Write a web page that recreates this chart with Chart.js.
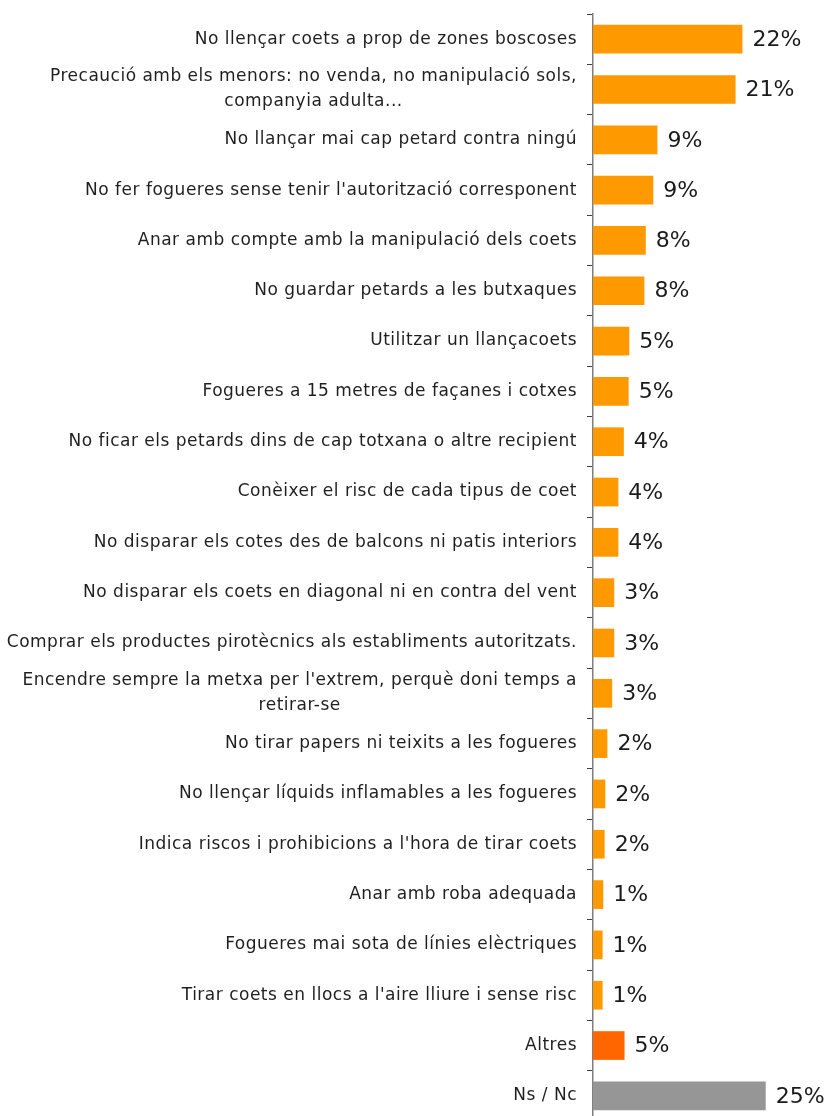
<!DOCTYPE html>
<html>
<head>
<meta charset="utf-8">
<script src="https://cdn.jsdelivr.net/npm/chart.js@4"></script>
<style>
  html, body { margin: 0; padding: 0; background: #fff; overflow: hidden; }
  #wrap { width: 824px; height: 1121px; }
</style>
</head>
<body>
<div id="wrap"><canvas id="chart" width="824" height="1121"></canvas></div>
<script>
  // ── Categories (multi-line ones as arrays) ──
  const categories = [
    'No llençar coets a prop de zones boscoses',
    ['Precaució amb els menors: no venda, no manipulació sols,', 'companyia adulta...'],
    'No llançar mai cap petard contra ningú',
    "No fer fogueres sense tenir l'autorització corresponent",
    'Anar amb compte amb la manipulació dels coets',
    'No guardar petards a les butxaques',
    'Utilitzar un llançacoets',
    'Fogueres a 15 metres de façanes i cotxes',
    'No ficar els petards dins de cap totxana o altre recipient',
    'Conèixer el risc de cada tipus de coet',
    'No disparar els cotes des de balcons ni patis interiors',
    'No disparar els coets en diagonal ni en contra del vent',
    'Comprar els productes pirotècnics als establiments autoritzats.',
    ["Encendre sempre la metxa per l'extrem, perquè doni temps a", 'retirar-se'],
    'No tirar papers ni teixits a les fogueres',
    'No llençar líquids inflamables a les fogueres',
    "Indica riscos i prohibicions a l'hora de tirar coets",
    'Anar amb roba adequada',
    'Fogueres mai sota de línies elèctriques',
    "Tirar coets en llocs a l'aire lliure i sense risc",
    'Altres',
    'Ns / Nc',
  ];
  // bar lengths (%)
  const values = [21.8, 20.8, 9.4, 8.8, 7.7, 7.5, 5.3, 5.2, 4.5, 3.7, 3.7, 3.1, 3.1, 2.8,
                  2.1, 1.8, 1.7, 1.5, 1.4, 1.4, 4.6, 25.2];
  // printed labels
  const valueLabels = ['22%', '21%', '9%', '9%', '8%', '8%', '5%', '5%', '4%', '4%', '4%', '3%', '3%', '3%',
                       '2%', '2%', '2%', '1%', '1%', '1%', '5%', '25%'];

  const ORANGE = '#ff9900', RED_ORANGE = '#ff6600', GREY = '#969696';
  const barColors = categories.map(c => c === 'Altres' ? RED_ORANGE : (c === 'Ns / Nc' ? GREY : ORANGE));

  const LABEL_FONT = "17px 'DejaVu Sans', sans-serif";
  const VALUE_FONT = "22px 'DejaVu Sans', sans-serif";

  // ── Category labels: right-aligned block, lines centered inside it ──
  const catLabels = {
    id: 'catLabels',
    afterDraw(chart) {
      const { ctx } = chart;
      const y = chart.scales.y;
      const right = 577;
      ctx.save();
      ctx.font = LABEL_FONT;
      ctx.letterSpacing = '0.5px';
      ctx.fillStyle = '#1f1f1f';
      ctx.textAlign = 'center';
      ctx.textBaseline = 'middle';
      categories.forEach((lab, i) => {
        const lines = Array.isArray(lab) ? lab : [lab];
        const w = Math.max(...lines.map(l => ctx.measureText(l).width));
        const cy = y.getPixelForTick(i);
        const lh = 25;
        lines.forEach((l, k) => {
          ctx.fillText(l, right - w / 2, cy + (k - (lines.length - 1) / 2) * lh);
        });
      });
      ctx.restore();
    },
  };

  // ── Value labels next to bar ends ──
  const valueTags = {
    id: 'valueTags',
    afterDatasetsDraw(chart) {
      const { ctx } = chart;
      const meta = chart.getDatasetMeta(0);
      ctx.save();
      ctx.font = VALUE_FONT;
      ctx.fillStyle = '#1a1a1a';
      ctx.textAlign = 'left';
      ctx.textBaseline = 'middle';
      meta.data.forEach((bar, i) => {
        ctx.fillText(valueLabels[i], bar.x + 10, bar.y + 1);
      });
      ctx.restore();
    },
  };

  new Chart(document.getElementById('chart'), {
    type: 'bar',
    data: {
      labels: categories,
      datasets: [{
        data: values,
        backgroundColor: barColors,
        borderWidth: 0,
        categoryPercentage: 1,
        barPercentage: 0.57,
      }],
    },
    options: {
      indexAxis: 'y',
      responsive: false,
      animation: false,
      events: [],
      layout: { padding: { top: 14, right: 0, bottom: 0, left: 0 } },
      plugins: { legend: { display: false }, tooltip: { enabled: false } },
      scales: {
        x: { display: false, min: 0, max: 33.7 },
        y: {
          afterFit: s => { s.width = 593; },
          ticks: { display: false },
          grid: { drawOnChartArea: false, offset: true, tickLength: 6, tickColor: '#404040', tickWidth: 1 },
          border: { color: '#7f7f7f', width: 1.5 },
        },
      },
    },
    plugins: [catLabels, valueTags],
  });
</script>
</body>
</html>
